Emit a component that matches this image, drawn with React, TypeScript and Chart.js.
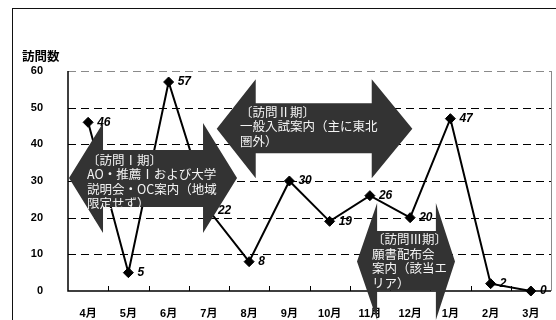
import React, { useEffect, useRef } from "react";
import { Chart, registerables } from "chart.js";

Chart.register(...registerables);

// ---- data ----
const months = ["4月", "5月", "6月", "7月", "8月", "9月", "10月", "11月", "12月", "1月", "2月", "3月"];
const visits = [46, 5, 57, 22, 8, 30, 19, 26, 20, 47, 2, 0];
const yMin = 0;
const yMax = 60;
const yStep = 10;
const yAxisTitle = "訪問数";
const phase1Lines = ["〔訪問Ⅰ期〕", "AO・推薦Ⅰおよび大学", "説明会・OC案内（地域", "限定せず）"];
const phase2Lines = ["〔訪問Ⅱ期〕", "一般入試案内（主に東北", "圏外）"];
const phase3Lines = ["〔訪問Ⅲ期〕", "願書配布会", "案内（該当エ", "リア）"];

// ---- annotation shapes (in scale units: category index / value) ----
const arrowShapes = [
  { xs: [-0.475, 0.37, 2.855, 3.7], head: [45.8, 15.8], body: [38.45, 22.9], text: [-0.03, 35.7], lines: phase1Lines },
  { xs: [3.195, 4.164, 7.046, 8.055], head: [57.73, 30.76], body: [51.19, 37.55], text: [3.774, 48.8], lines: phase2Lines },
  { xs: [6.68, 7.18, 8.64, 9.115], head: [24.0, -7.9], body: [16.36, 0.14], text: [7.053, 14.04], lines: phase3Lines },
];

const W = 600;
const H = 340;
const LATIN = '"Liberation Sans", "Noto Sans CJK JP", sans-serif';
const CJK = '"Noto Sans CJK JP", "Liberation Sans", sans-serif';

const framePlugin = {
  id: "frame",
  beforeDraw(chart: any) {
    const ctx = chart.ctx;
    ctx.save();
    ctx.fillStyle = "#fff";
    ctx.fillRect(0, 0, chart.width, chart.height);
    ctx.strokeStyle = "#111";
    ctx.lineWidth = 1;
    ctx.strokeRect(12.5, 8.5, chart.width, chart.height);
    ctx.fillStyle = "#000";
    ctx.font = `bold 12.5px ${CJK}`;
    ctx.textBaseline = "middle";
    ctx.textAlign = "left";
    ctx.fillText(yAxisTitle, 22, 56);
    ctx.restore();
  },
  beforeDatasetsDraw(chart: any) {
    const ctx = chart.ctx;
    const { left, right, top, bottom } = chart.chartArea;
    const ys = chart.scales.y;
    ctx.save();
    ys.ticks.forEach((t: any) => {
      const v = t.value;
      if (v === yMin) return;
      const py = Math.round(ys.getPixelForValue(v)) + 0.5;
      ctx.beginPath();
      ctx.setLineDash([8, 5]);
      ctx.lineWidth = 1;
      ctx.strokeStyle = v === yMax ? "#8a8a8a" : "#000";
      ctx.moveTo(left, py);
      ctx.lineTo(right, py);
      ctx.stroke();
    });
    ctx.setLineDash([]);
    ctx.strokeStyle = "#8a8a8a";
    ctx.beginPath();
    ctx.moveTo(Math.round(right) + 0.5, top);
    ctx.lineTo(Math.round(right) + 0.5, bottom);
    ctx.stroke();
    ctx.strokeStyle = "#000";
    ctx.lineWidth = 1.5;
    ctx.beginPath();
    ctx.moveTo(left, top);
    ctx.lineTo(left, bottom);
    ctx.lineTo(right, bottom);
    ctx.stroke();
    ctx.lineWidth = 1;
    const n = months.length;
    for (let i = 1; i < n; i++) {
      const px = Math.round(left + ((right - left) * i) / n) + 0.5;
      ctx.beginPath();
      ctx.moveTo(px, bottom);
      ctx.lineTo(px, bottom - 5);
      ctx.stroke();
    }
    ctx.restore();
  },
  afterDatasetsDraw(chart: any) {
    const ctx = chart.ctx;
    const meta = chart.getDatasetMeta(0);
    ctx.save();
    ctx.fillStyle = "#000";
    ctx.font = `italic bold 12px ${LATIN}`;
    ctx.textBaseline = "middle";
    ctx.textAlign = "left";
    meta.data.forEach((el: any, i: number) => {
      ctx.fillText(String(visits[i]), el.x + 9, el.y);
    });
    ctx.restore();
  },
  afterDraw(chart: any) {
    const ctx = chart.ctx;
    const ys = chart.scales.y;
    const left = chart.chartArea.left;
    const catW = (chart.chartArea.right - left) / months.length;
    const px = (v: number) => left + catW * (v + 0.5);
    const py = (v: number) => ys.getPixelForValue(v);
    ctx.save();
    arrowShapes.forEach((a) => {
      const [x0, xi0, xi1, x1] = a.xs.map(px);
      const ht = py(a.head[0]);
      const hb = py(a.head[1]);
      const bt = py(a.body[0]);
      const bb = py(a.body[1]);
      const yc = (ht + hb) / 2;
      ctx.beginPath();
      ctx.moveTo(x0, yc);
      ctx.lineTo(xi0, ht);
      ctx.lineTo(xi0, bt);
      ctx.lineTo(xi1, bt);
      ctx.lineTo(xi1, ht);
      ctx.lineTo(x1, yc);
      ctx.lineTo(xi1, hb);
      ctx.lineTo(xi1, bb);
      ctx.lineTo(xi0, bb);
      ctx.lineTo(xi0, hb);
      ctx.closePath();
      ctx.fillStyle = "#333333";
      ctx.fill();
      ctx.fillStyle = "#f4f4f4";
      ctx.font = `12.5px ${CJK}`;
      ctx.textBaseline = "middle";
      ctx.textAlign = "left";
      const tx = px(a.text[0]);
      const ty = py(a.text[1]);
      a.lines.forEach((line, i) => ctx.fillText(line, tx, ty + i * 14.5));
    });
    ctx.restore();
  },
};

export default function App() {
  const ref = useRef<HTMLCanvasElement | null>(null);
  useEffect(() => {
    if (!ref.current) return;
    const chart = new Chart(ref.current, {
      type: "line",
      data: {
        labels: months,
        datasets: [
          {
            data: visits,
            borderColor: "#000",
            borderWidth: 2,
            backgroundColor: "#000",
            pointStyle: "rectRot",
            pointRadius: 5,
            pointBorderWidth: 1,
            pointBackgroundColor: "#000",
            pointBorderColor: "#000",
            tension: 0,
            clip: false as any,
          },
        ],
      },
      options: {
        responsive: false,
        animation: false,
        events: [],
        devicePixelRatio: 1,
        layout: { padding: { top: 71, left: 0, right: W - 551, bottom: 0 } },
        plugins: { legend: { display: false }, tooltip: { enabled: false }, title: { display: false } },
        scales: {
          x: {
            offset: true,
            grid: { display: false },
            border: { display: false },
            ticks: { color: "#000", font: { family: LATIN, size: 11, weight: "bold" }, padding: 8, maxRotation: 0, autoSkip: false },
            afterFit: (s: any) => { s.height = H - 291; },
          },
          y: {
            min: yMin,
            max: yMax,
            grid: { display: false },
            border: { display: false },
            ticks: { stepSize: yStep, color: "#000", font: { family: LATIN, size: 11, weight: "bold" }, padding: 17 },
            afterFit: (s: any) => { s.width = 68; },
          },
        },
      },
      plugins: [framePlugin],
    });
    return () => chart.destroy();
  }, []);
  return (
    <div style={{ position: "fixed", left: 0, top: 0, width: 556, height: 320, overflow: "hidden", background: "#fff" }}>
      <canvas ref={ref} width={W} height={H} style={{ display: "block", width: W, height: H }} />
    </div>
  );
}
